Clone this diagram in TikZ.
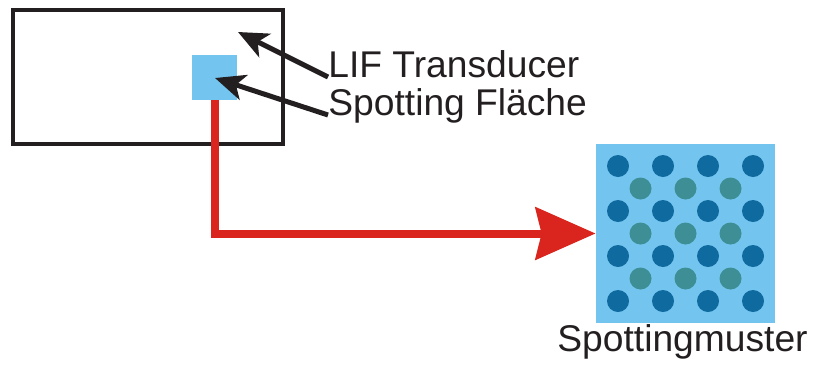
\documentclass[tikz,border=0pt]{standalone}
\usepackage{fontspec}
\setmainfont{Liberation Sans}
\usetikzlibrary{positioning,arrows.meta,calc}
\definecolor{spotblue}{HTML}{73C5EF}
\definecolor{dotblue}{HTML}{0E6A9F}
\definecolor{dotteal}{HTML}{3E8F95}
\definecolor{arrowred}{HTML}{D9251D}
\definecolor{inkblack}{HTML}{231F20}

\begin{document}
\begin{tikzpicture}[x=0.5pt,y=-0.5pt,
    caption/.style={inner sep=0pt,anchor=base west,font=\fontsize{18.6}{22}\selectfont,text=inkblack},
    pointer/.style={draw=inkblack,line width=2.5pt,-{Stealth[length=15pt,width=13pt,inset=4pt]}},
    spotbox/.style={fill=spotblue,inner sep=0pt}]
  \useasboundingbox (0,0) rectangle (813,370);
  % transducer with spotting area
  \node[draw=inkblack,line width=2pt,minimum width=135pt,minimum height=67pt,inner sep=0pt] (transducer) at (148,77) {};
  \node[spotbox,minimum size=22.5pt] (spot) at (214.5,77) {};
  % spotting pattern
  \node[spotbox,minimum size=89.5pt] (muster) at (685.5,233.5) {};
  \foreach \i in {-67.5,-22.5,22.5,67.5}
    \foreach \j in {-67.5,-22.5,22.5,67.5}
      \fill[dotblue] ($(muster)+(\i,\j)$) circle (5.5pt);
  \foreach \i in {-45,0,45}
    \foreach \j in {-45,0,45}
      \fill[dotteal] ($(muster)+(\i,\j)$) circle (5.5pt);
  % labels
  \node[caption] (lif) at (328,77) {LIF Transducer};
  \node[caption] (flaeche) at (328,115) {Spotting Fläche};
  \node[caption] (mustertext) at (557,351) {Spottingmuster};
  \coordinate (lif tip) at (238,32);
  \coordinate (spot tip) at (215,78);
  \draw[pointer] (lif.base west) -- (lif tip);
  \draw[pointer] (flaeche.base west) -- (spot tip);
  % transfer arrow
  \draw[arrowred,line width=4pt,-{Stealth[length=30pt,width=26pt,inset=3pt]}] (spot.south) |- (muster.west);
\end{tikzpicture}
\end{document}
